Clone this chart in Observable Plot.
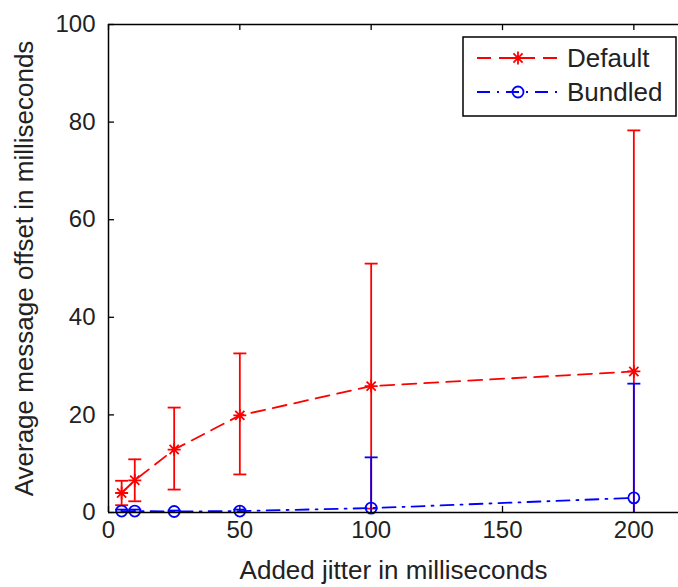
<!DOCTYPE html>
<html><head><meta charset="utf-8">
<script src="https://cdn.jsdelivr.net/npm/d3@7"></script>
<script src="https://cdn.jsdelivr.net/npm/@observablehq/plot@0.6"></script>
<style>body{margin:0;background:#fff} svg{display:block}</style>
</head><body><div id="chart"></div>
<script>
// ---- data ----
const jitter = [5, 10, 25, 50, 100, 200];
const defaultMean = [4.0, 6.6, 12.9, 19.9, 25.9, 28.9];
const defaultLow  = [1.5, 2.3, 4.7, 7.8, 0.8, -20.5];
const defaultHigh = [6.5, 10.9, 21.5, 32.6, 51.0, 78.3];
const bundledMean = [0.3, 0.3, 0.2, 0.3, 0.9, 3.0];
const bundledLow  = [0.0, 0.0, 0.0, 0.0, -9.5, -20.4];
const bundledHigh = [0.6, 0.6, 0.4, 0.6, 11.3, 26.4];
const seriesNames = ["Default", "Bundled"];
const xTicks = [0, 50, 100, 150, 200];
const yTicks = [0, 20, 40, 60, 80, 100];
const xLabel = "Added jitter in milliseconds";
const yLabel = "Average message offset in milliseconds";

const RED = "#ff0000", BLUE = "#0000ff";
const FONT = "'Liberation Sans', Arial, Helvetica, sans-serif";
const RED_DASH = "14,8", BLUE_DASH = "13,7,2,7";
const SW = 1.8;

const def = jitter.map((x, i) => ({x, y: defaultMean[i], lo: defaultLow[i], hi: defaultHigh[i]}));
const bun = jitter.map((x, i) => ({x, y: bundledMean[i], lo: bundledLow[i], hi: bundledHigh[i]}));

// custom symbols (size = pi * r^2)
const capSymbol = {draw(ctx, size) { const r = Math.sqrt(size / Math.PI); ctx.moveTo(-r, 0); ctx.lineTo(r, 0); }};
const starSymbol = {draw(ctx, size) {
  const r = Math.sqrt(size / Math.PI), d = r * Math.SQRT1_2;
  ctx.moveTo(-r, 0); ctx.lineTo(r, 0); ctx.moveTo(0, -r); ctx.lineTo(0, r);
  ctx.moveTo(-d, -d); ctx.lineTo(d, d); ctx.moveTo(-d, d); ctx.lineTo(d, -d);
}};

function errorMarks(data, color) {
  return [
    Plot.ruleX(data, {x: "x", y1: "lo", y2: "hi", stroke: color, strokeWidth: SW, clip: true}),
    Plot.dot(data, {x: "x", y: "hi", symbol: capSymbol, r: 6.5, fill: "none", stroke: color, strokeWidth: SW, clip: true}),
    Plot.dot(data, {x: "x", y: "lo", symbol: capSymbol, r: 6.5, fill: "none", stroke: color, strokeWidth: SW, clip: true})
  ];
}

const chart = Plot.plot({
  width: 678,
  height: 587,
  marginLeft: 108,
  marginTop: 24,
  marginBottom: 75,
  marginRight: 0,
  style: {fontFamily: FONT, color: "#222", background: "#fff"},
  x: {domain: [0, 217]},
  y: {domain: [0, 100]},
  marks: [
    Plot.axisX({ticks: xTicks, tickSize: 0, tickPadding: 8, fontSize: 24, label: null}),
    Plot.axisY({ticks: yTicks, tickSize: 0, tickPadding: 13, fontSize: 24, label: null}),
    Plot.text([xLabel], {frameAnchor: "bottom", dy: 58, fontSize: 26, lineAnchor: "middle", textAnchor: "middle", fill: "#222"}),
    Plot.text([yLabel], {frameAnchor: "left", dx: -84, rotate: -90, fontSize: 26, lineAnchor: "middle", textAnchor: "middle", fill: "#222"}),
    // inward ticks
    Plot.ruleX(xTicks, {x: d => d, y1: 0, y2: 1.25, stroke: "#000", strokeWidth: 1.3}),
    Plot.ruleX(xTicks, {x: d => d, y1: 100, y2: 98.75, stroke: "#000", strokeWidth: 1.3}),
    Plot.ruleY(yTicks, {y: d => d, x1: 0, x2: 2.3, stroke: "#000", strokeWidth: 1.3}),
    // error bars
    ...errorMarks(def, RED),
    ...errorMarks(bun, BLUE),
    // lines
    Plot.line(def, {x: "x", y: "y", stroke: RED, strokeWidth: SW, strokeDasharray: RED_DASH}),
    Plot.line(bun, {x: "x", y: "y", stroke: BLUE, strokeWidth: SW, strokeDasharray: BLUE_DASH}),
    // markers
    Plot.dot(def, {x: "x", y: "y", symbol: starSymbol, r: 6.5, fill: "none", stroke: RED, strokeWidth: SW}),
    Plot.dot(bun, {x: "x", y: "y", symbol: "circle", r: 5.5, fill: "none", stroke: BLUE, strokeWidth: SW}),
    // frame
    Plot.ruleX([0], {stroke: "#000", strokeWidth: 1.5}),
    Plot.ruleY([0], {stroke: "#000", strokeWidth: 1.5}),
    Plot.ruleY([100], {stroke: "#000", strokeWidth: 1.5})
  ]
});
document.getElementById("chart").appendChild(chart);

// legend (inside the axes, upper right)
const svg = d3.select(chart);
const lg = svg.append("g").attr("font-family", FONT).attr("font-size", 26)
  .attr("fill", "#222").attr("text-anchor", "start");
lg.append("rect").attr("x", 463).attr("y", 37).attr("width", 213).attr("height", 79)
  .attr("fill", "#fff").attr("stroke", "#000").attr("stroke-width", 1.5);
const entries = [
  {name: seriesNames[0], color: RED, dash: RED_DASH, sym: starSymbol, r: 6.5},
  {name: seriesNames[1], color: BLUE, dash: BLUE_DASH, sym: d3.symbolCircle, r: 5.5}
];
entries.forEach((e, i) => {
  const y = 58 + i * 34;
  lg.append("line").attr("x1", 477).attr("x2", 557).attr("y1", y).attr("y2", y)
    .attr("stroke", e.color).attr("stroke-width", SW).attr("stroke-dasharray", e.dash);
  lg.append("path").attr("transform", `translate(518,${y})`)
    .attr("d", d3.symbol(e.sym, Math.PI * e.r * e.r)())
    .attr("fill", "none").attr("stroke", e.color).attr("stroke-width", SW);
  lg.append("text").attr("x", 567).attr("y", y).attr("dy", "0.35em").text(e.name);
});
</script>
</body></html>
